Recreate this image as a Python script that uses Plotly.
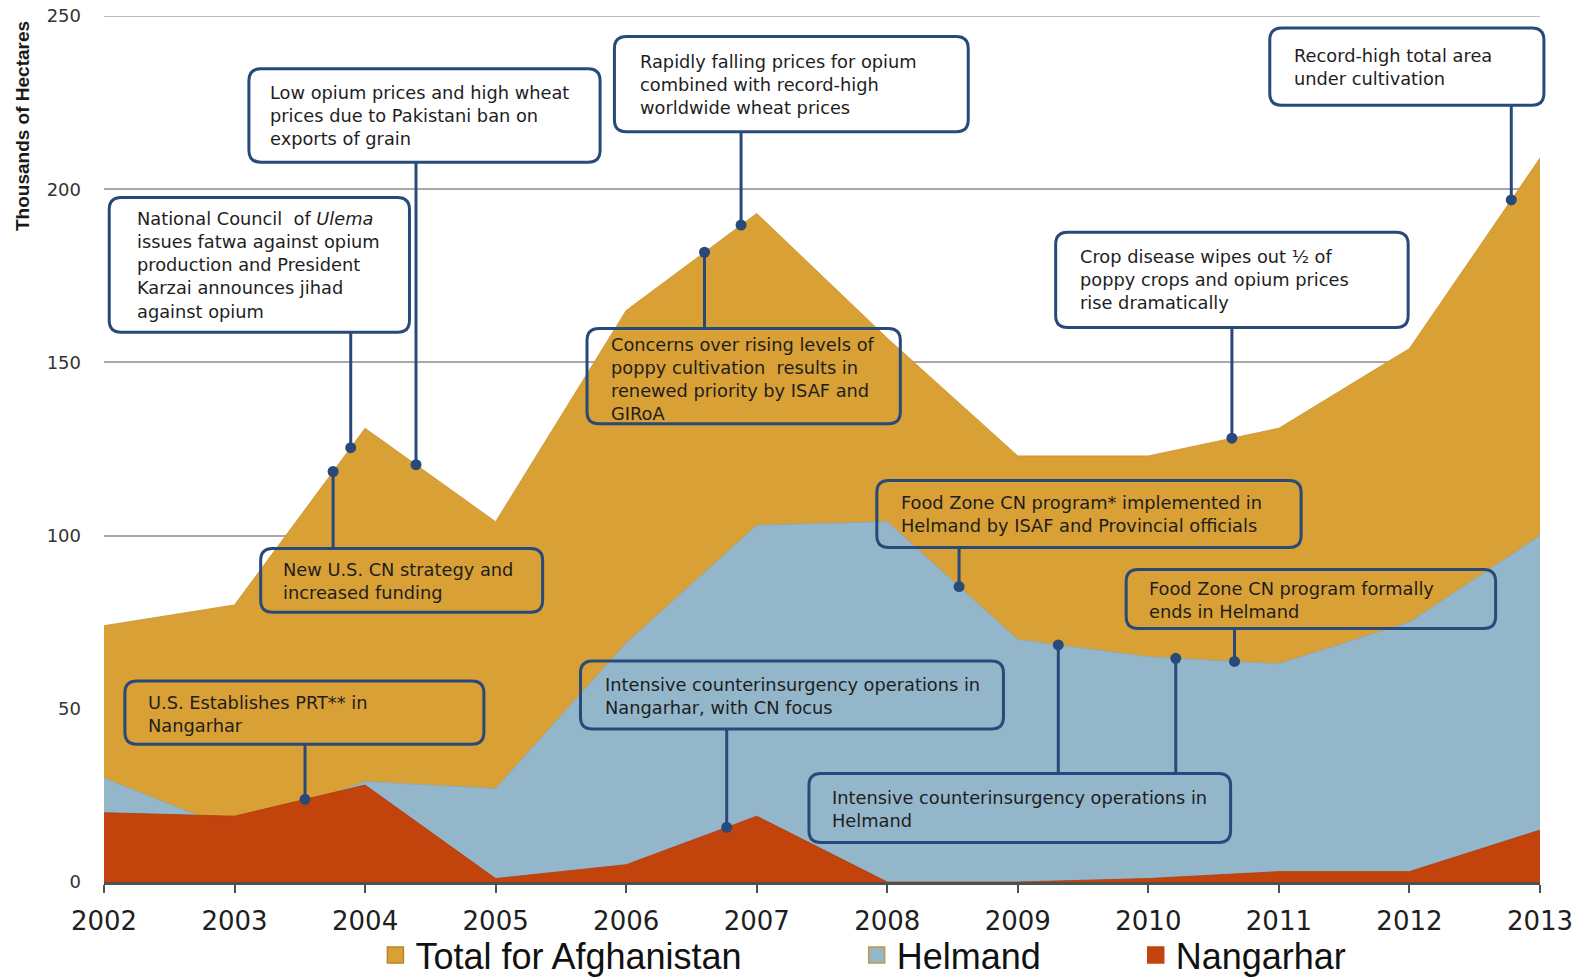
import numpy as np
import plotly.graph_objects as go

# ---------------- data ----------------
years = [2002, 2003, 2004, 2005, 2006, 2007, 2008, 2009, 2010, 2011, 2012, 2013]
total_afghanistan = [74, 80, 131, 104, 165, 193, 157, 123, 123, 131, 154, 209]
helmand = [30, 15, 29, 27, 69, 103, 104, 70, 65, 63, 75, 100]
nangarhar = [20, 19, 28, 1, 5, 19, 0, 0, 1, 3, 3, 15]

series_names = ["Total for Afghanistan", "Helmand", "Nangarhar"]
y_ticks = [0, 50, 100, 150, 200, 250]

# events: text, date(s) it refers to, and which series the callout points at
event_texts = [
    "National Council  of <i>Ulema</i><br>issues fatwa against opium<br>production and President<br>Karzai announces jihad<br>against opium",
    "Low opium prices and high wheat<br>prices due to Pakistani ban on<br>exports of grain",
    "Rapidly falling prices for opium<br>combined with record-high<br>worldwide wheat prices",
    "Concerns over rising levels of<br>poppy cultivation  results in<br>renewed priority by ISAF and<br>GIRoA",
    "Record-high total area<br>under cultivation",
    "Crop disease wipes out ½ of<br>poppy crops and opium prices<br>rise dramatically",
    "New U.S. CN strategy and<br>increased funding",
    "U.S. Establishes PRT** in<br>Nangarhar",
    "Intensive counterinsurgency operations in<br>Nangarhar, with CN focus",
    "Food Zone CN program* implemented in<br>Helmand by ISAF and Provincial officials",
    "Food Zone CN program formally<br>ends in Helmand",
    "Intensive counterinsurgency operations in<br>Helmand",
]
event_dates = [
    [2003.89], [2004.39], [2006.88], [2006.60], [2012.78], [2010.64],
    [2003.755], [2003.54], [2006.77], [2008.55], [2010.66], [2009.31, 2010.21],
]
event_series = [0, 0, 0, 0, 0, 0, 0, 2, 2, 1, 1, 1]

# ---------------- layout of callout boxes (x in years, y in axis units) ----------------
boxes = [
    (2002.04, 2004.34, 158.7, 197.6),
    (2003.11, 2005.80, 207.8, 234.8),
    (2005.91, 2008.62, 216.6, 244.1),
    (2005.70, 2008.10, 132.3, 159.8),
    (2010.93, 2013.03, 224.2, 246.5),
    (2009.29, 2011.99, 160.1, 187.6),
    (2003.20, 2005.36, 77.9, 96.3),
    (2002.16, 2004.91, 39.8, 58.0),
    (2005.65, 2008.89, 44.2, 63.8),
    (2007.92, 2011.17, 96.6, 115.9),
    (2009.83, 2012.66, 73.2, 90.2),
    (2007.40, 2010.63, 11.4, 31.3),
]
text_pad_x = [26, 20, 24, 23, 23, 23, 21, 22, 23, 23, 22, 22]
text_pad_y = [20, 23, 24, 15, 27, 24, 20, 21, 23, 21, 18, 23]

# ---------------- styling ----------------
W, H = 1589, 977
ML, MR, MT = 104, 49, 16
PW, PH = W - ML - MR, 866
MB = H - MT - PH
X0, X1 = 2002, 2013
Y0, Y1 = 0, 250

fill_colors = ["#D9A035", "#93B6CA", "#C2430C"]
edge_colors = ["#C98F2A", "#86A9BD", "#B23C0A"]
navy = "#284A7A"
grid_color = "#A8A8A8"
text_font = "DejaVu Sans, Verdana, sans-serif"
legend_font = "Liberation Sans, Arial, sans-serif"


def to_paper_x(x):
    return (x - X0) / (X1 - X0)


def to_paper_y(y):
    return (y - Y0) / (Y1 - Y0)


def rounded_rect(x0, y0, x1, y1, r_px=12):
    rx, ry = r_px / PW, r_px / PH
    return (f"M{x0 + rx},{y0} L{x1 - rx},{y0} Q{x1},{y0} {x1},{y0 + ry} "
            f"L{x1},{y1 - ry} Q{x1},{y1} {x1 - rx},{y1} L{x0 + rx},{y1} "
            f"Q{x0},{y1} {x0},{y1 - ry} L{x0},{y0 + ry} Q{x0},{y0} {x0 + rx},{y0} Z")


fig = go.Figure()

all_series = [total_afghanistan, helmand, nangarhar]
for name, vals, fc, ec in zip(series_names, all_series, fill_colors, edge_colors):
    fig.add_trace(go.Scatter(
        x=years, y=vals, name=name, mode="lines", fill="tozeroy",
        fillcolor=fc, line=dict(color=ec, width=0.8), showlegend=False,
        hoverinfo="x+y+name",
    ))

# legend entries (square swatches)
legend_pad = [11, 9, 0]
legend_labels = [n + "\u00a0" * p for n, p in zip(series_names, legend_pad)]
legend_edges = ["#B9832A", "#C99640", "#C2430C"]
for lab, fc, lc in zip(legend_labels, fill_colors, legend_edges):
    fig.add_trace(go.Scatter(
        x=[None], y=[None], mode="markers", name=lab,
        marker=dict(symbol="square", size=16, color=fc, line=dict(color=lc, width=1.5)),
        showlegend=True,
    ))

shapes = []
annotations = []
dot_x, dot_y = [], []
for i, txt in enumerate(event_texts):
    bx0, bx1, by0, by1 = boxes[i]
    vals = all_series[event_series[i]]
    for d in event_dates[i]:
        yv = float(np.interp(d, years, vals))
        dot_x.append(d)
        dot_y.append(yv)
        edge = by0 if yv < by0 else by1
        fig.add_trace(go.Scatter(
            x=[d, d], y=[yv, edge], mode="lines", cliponaxis=False,
            line=dict(color=navy, width=3), showlegend=False, hoverinfo="skip",
        ))
    shapes.append(dict(
        type="path", xref="paper", yref="paper", layer="above",
        path=rounded_rect(to_paper_x(bx0), to_paper_y(by0), to_paper_x(bx1), to_paper_y(by1)),
        line=dict(color=navy, width=3), fillcolor="rgba(0,0,0,0)",
    ))
    annotations.append(dict(
        xref="paper", yref="paper", x=to_paper_x(bx0), y=to_paper_y(by1),
        xanchor="left", yanchor="top", align="left", showarrow=False,
        xshift=text_pad_x[i] * 1.013 - 1, yshift=-(text_pad_y[i] * 1.013 - 12),
        text=txt, font=dict(family=text_font, size=17.8, color="#1E1E1E"),
    ))

fig.add_trace(go.Scatter(
    x=dot_x, y=dot_y, mode="markers", cliponaxis=False,
    marker=dict(color=navy, size=11), showlegend=False, hoverinfo="skip",
))

# top gridline sits on the plot edge; draw it explicitly so it is never dropped
shapes.insert(0, dict(
    type="line", xref="paper", yref="y", x0=0, x1=1, y0=y_ticks[-1], y1=y_ticks[-1],
    layer="below", line=dict(color=grid_color, width=1.5),
))

annotations.append(dict(
    xref="paper", yref="paper", x=(22.5 - ML) / PW, y=(MT + PH - 126.5) / PH,
    xanchor="center", yanchor="middle", showarrow=False, textangle=-90,
    text="<b>Thousands of Hectares</b>",
    font=dict(family=legend_font, size=19, color="#1A1A1A"),
))

fig.update_layout(
    width=W, height=H,
    margin=dict(l=ML, r=MR, t=MT, b=MB, autoexpand=False),
    paper_bgcolor="white", plot_bgcolor="white",
    shapes=shapes, annotations=annotations,
    showlegend=True,
    legend=dict(
        orientation="h", x=0.189, xanchor="left", y=-0.0843, yanchor="middle",
        font=dict(family=legend_font, size=36, color="#111111"),
        bgcolor="rgba(0,0,0,0)", itemclick=False,
    ),
    xaxis=dict(
        range=[X0, X1], tickmode="array", tickvals=years, ticktext=[str(y) for y in years],
        showgrid=False, zeroline=False, showline=True, linecolor="#505050", linewidth=2.5,
        ticks="outside", ticklen=8, tickwidth=2, tickcolor="#505050", ticklabelstandoff=6,
        tickfont=dict(family="DejaVu Sans, Verdana, sans-serif", size=26, color="#1E1E1E"),
        fixedrange=True,
    ),
    yaxis=dict(
        range=[Y0, Y1], tickmode="array", tickvals=y_ticks,
        showgrid=True, gridcolor=grid_color, gridwidth=1.5, zeroline=False, showline=False,
        ticks="", ticklabelstandoff=22, ticklabeloverflow="allow",
        tickfont=dict(family="DejaVu Sans, Verdana, sans-serif", size=18, color="#333333"),
        fixedrange=True,
    ),
)

# remove the default 8px page margin so the figure fills the window exactly
fig.write_html(
    "out.html",
    config={"displayModeBar": False},
    post_script="document.body.style.margin='0';document.body.style.overflow='hidden';",
)
